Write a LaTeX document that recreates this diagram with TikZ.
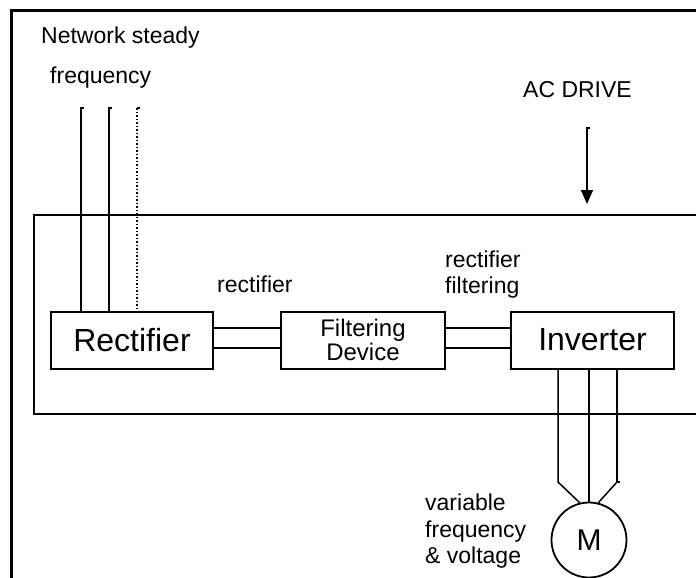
\documentclass[tikz,border=0pt]{standalone}
\usepackage{fontspec}
\setmainfont{Liberation Sans}
\usetikzlibrary{arrows.meta}
\tikzset{
	blk/.style={draw,line width=2pt,minimum height=57pt,inner sep=0pt},
	lbl/.style={font=\fontsize{23}{27}\selectfont,inner sep=0pt,anchor=base west},
	wire/.style={line width=1.5pt},
}
\begin{document}
\begin{tikzpicture}[x=1pt,y=-1pt]
		\useasboundingbox (0,0) rectangle (696,578);
		\draw[line width=3pt](696,11)--(11,11)--(11,578);
		\draw[line width=2pt](696,215)--(34,215)--(34,414)--(696,414);
		% blocks
		\node[blk,minimum width=162pt,font=\fontsize{32}{32}\selectfont](rect) at (132,340){Rectifier};
		\node[blk,minimum width=164pt,align=center,font=\fontsize{24}{18}\selectfont](filt) at (363,340){Filtering\\Device};
		\node[blk,minimum width=163pt,font=\fontsize{32}{32}\selectfont](inv) at (592.5,340){Inverter};
		\node[draw,circle,line width=1.8pt,minimum size=75pt,inner sep=0pt,font=\fontsize{30}{30}\selectfont](mot) at (589,540){M};
		% mains
		\coordinate (in1) at (81,108);
		\coordinate (in2) at (109,108);
		\coordinate (in3) at (137,108);
		\draw[wire]([xshift=3pt]in1)--(in1)--(in1 |- rect.north);
		\draw[wire]([xshift=3pt]in2)--(in2)--(in2 |- rect.north);
		\draw[wire]([xshift=3pt]in3)--(in3);
		\draw[wire,dotted](in3)--(in3 |- rect.north);
		% dc link
		\draw[wire]([yshift=12pt]rect.east)--([yshift=12pt]filt.west);
		\draw[wire]([yshift=-8pt]rect.east)--([yshift=-8pt]filt.west);
		\draw[wire]([yshift=12pt]filt.east)--([yshift=12pt]inv.west);
		\draw[wire]([yshift=-8pt]filt.east)--([yshift=-8pt]inv.west);
		% motor
		\coordinate (out1) at (558,482);
		\coordinate (out3) at (617,482);
		\draw[wire](out1 |- inv.south)--(out1)--(mot.104);
		\draw[wire](mot.north |- inv.south)--(mot.north);
		\draw[wire](out3 |- inv.south)--(out3)--([xshift=3pt]out3);
		\draw[wire](out3)--(mot.76);
		% drive arrow
		\coordinate (acin) at (587,128);
		\coordinate (actip) at (587,204);
		\draw[wire,-{Triangle[width=12pt,length=14pt]}]([xshift=3pt]acin)--(acin)--(actip);
		% labels
		\node[lbl](net) at (41,44){Network steady};
		\node[lbl](netf) at (50,84){frequency};
		\node[lbl](ac) at (523,97){AC DRIVE};
		\node[lbl](rl) at (217,292){rectifier};
		\node[lbl](rfl) at (445,267){rectifier};
		\node[lbl](rfl2) at (445,293){filtering};
		\node[lbl](var) at (425,510){variable};
		\node[lbl](var2) at (425,537){frequency};
		\node[lbl](var3) at (425,563){\& voltage};
	    \end{tikzpicture}
\end{document}
